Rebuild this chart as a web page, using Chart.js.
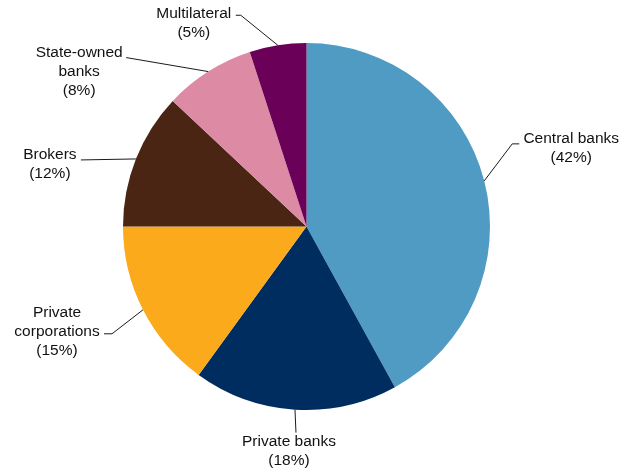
<!DOCTYPE html>
<html>
<head>
<meta charset="utf-8">
<script src="https://cdn.jsdelivr.net/npm/chart.js@4"></script>
<style>
  body { margin: 0; background: #fff; }
  #wrap { width: 636px; height: 470px; }
</style>
</head>
<body>
<div id="wrap"><canvas id="pieChart" width="636" height="470"></canvas></div>
<script>
// data
const categories = ['Central banks', 'Private banks', 'Private corporations', 'Brokers', 'State-owned banks', 'Multilateral'];
const labelLines = [['Central banks'], ['Private banks'], ['Private', 'corporations'], ['Brokers'], ['State-owned', 'banks'], ['Multilateral']];
const shares = [42, 18, 15, 12, 8, 5];
const colors = ['#4F9BC4', '#002D5F', '#FBAA1B', '#4A2514', '#DD8AA5', '#6A0058'];

// leader line + label placement, relative to the slice's mid point on the rim
// [elbow dx, elbow dy, tail dx, text dx, text dy]
const leaders = [
  [28, -37, 7, 52, -5],
  [1, 23, 0, -7, 9],
  [-31, 24, -8, -47, -21],
  [-55, 1, 0, -31, -5],
  [-82, -14, 0, -47, -5],
  [-37, -30, -5, -42, -2]
];

const calloutPlugin = {
  id: 'callouts',
  afterDatasetsDraw(chart) {
    const ctx = chart.ctx;
    const meta = chart.getDatasetMeta(0);
    const total = shares.reduce((a, b) => a + b, 0);
    ctx.save();
    ctx.strokeStyle = '#1a1a1a';
    ctx.lineWidth = 1;
    ctx.fillStyle = '#111';
    ctx.font = '15.5px "Liberation Sans", Arial, sans-serif';
    ctx.textAlign = 'center';
    ctx.textBaseline = 'middle';
    meta.data.forEach((arc, i) => {
      const mid = (arc.startAngle + arc.endAngle) / 2;
      const px = arc.x + Math.cos(mid) * arc.outerRadius;
      const py = arc.y + Math.sin(mid) * arc.outerRadius;
      const l = leaders[i];
      const ex = px + l[0], ey = py + l[1];
      const tx = ex + l[2];
      ctx.beginPath();
      ctx.moveTo(px, py);
      ctx.lineTo(ex, ey);
      ctx.lineTo(tx, ey);
      ctx.stroke();
      const pct = Math.round(shares[i] / total * 100);
      const lines = labelLines[i].concat(['(' + pct + '%)']);
      lines.forEach((s, k) => {
        ctx.fillText(s, tx + l[3], ey + l[4] + k * 19);
      });
    });
    ctx.restore();
  }
};

new Chart(document.getElementById('pieChart').getContext('2d'), {
  type: 'pie',
  data: {
    labels: categories,
    datasets: [{
      data: shares,
      backgroundColor: colors,
      borderWidth: 0
    }]
  },
  options: {
    responsive: false,
    animation: false,
    layout: { padding: { top: 43, bottom: 60, left: 0, right: 23 } },
    plugins: {
      legend: { display: false },
      tooltip: { enabled: false }
    }
  },
  plugins: [calloutPlugin]
});
</script>
</body>
</html>
